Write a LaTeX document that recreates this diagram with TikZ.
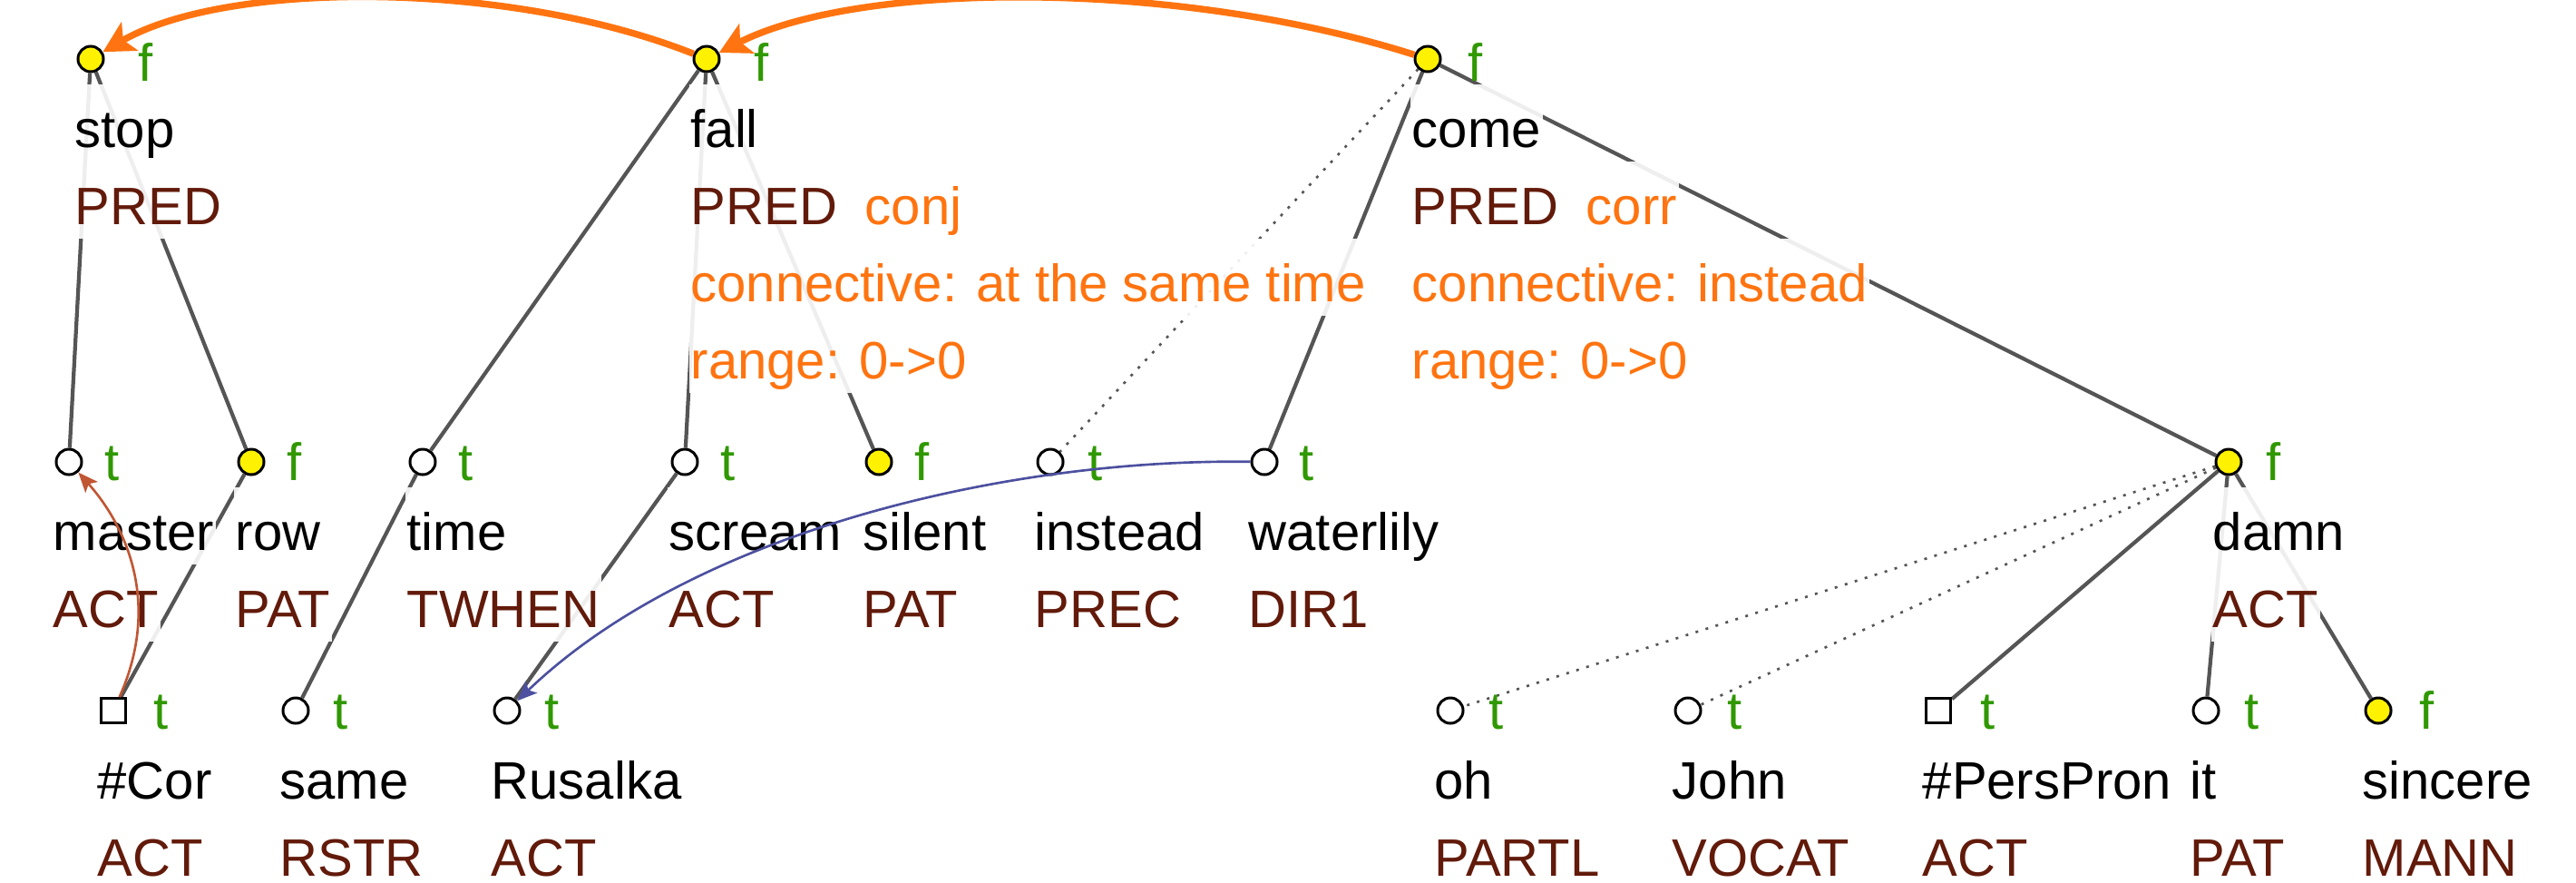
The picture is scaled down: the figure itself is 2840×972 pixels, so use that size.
\documentclass[tikz,border=0pt]{standalone}
\usepackage{fontspec}
\setmainfont{Liberation Sans}
\usetikzlibrary{arrows.meta}
\pgfdeclarelayer{edges}
\pgfdeclarelayer{labels}
\pgfdeclarelayer{top}
\pgfsetlayers{edges,labels,main,top}
\definecolor{edgegray}{HTML}{555555}
\definecolor{funcol}{RGB}{98,26,10}
\definecolor{orng}{RGB}{255,116,16}
\definecolor{tfgreen}{RGB}{48,152,0}
\definecolor{gramcoref}{HTML}{C05633}
\definecolor{textcoref}{HTML}{4C509F}
\tikzset{
  tnode/.style={circle, draw=black, line width=0.85pt, minimum size=0.28cm, inner sep=0pt, fill=white},
  yel/.style={fill=yellow},
  sq/.style={rectangle, minimum size=0.27cm},
  tflab/.style={anchor=base west, inner sep=0pt, text=tfgreen},
  lbl/.style={anchor=base west, inner xsep=0.02cm, inner ysep=0pt, text height=0.69cm, text depth=0.16cm, fill=white, fill opacity=0.9, text opacity=1},
  funlbl/.style={lbl, text=funcol},
  extlbl/.style={lbl, text=orng},
  tedge/.style={draw=edgegray, line width=1.2pt},
  dotedge/.style={draw=edgegray, line width=0.75pt, dash pattern=on 0.03cm off 0.085cm},
  orarc/.style={draw=orng, line width=2.1pt, -{Stealth[length=0.34cm,width=0.36cm,inset=0.08cm]}},
  gcoref/.style={draw=gramcoref, line width=0.75pt, -{Stealth[length=0.22cm,width=0.18cm,inset=0.05cm]}},
  tcoref/.style={draw=textcoref, line width=0.75pt, -{Stealth[length=0.22cm,width=0.18cm,inset=0.05cm]}},
}
% #1 name, #2 x, #3 y, #4 style, #5 t/f, #6 label dx, #7 label dy
\newcommand\TMk[7]{%
  \node[tnode,#4] (#1) at (#2,#3) {};
  \node[tflab] (#1-tf) at (#2+#6,#3+#7) {#5};}
% #1 name #2 x, #3 y, #4 text
\newcommand\TLem[4]{\node[lbl] (#1-lem) at (#2-20,#3+97) {#4};}
\newcommand\TFun[4]{\node[funlbl] (#1-fun) at (#2-20,#3+182) {#4\hspace{0.16cm}};}
% #1 name, #2 x, #3 y, #4 offset, #5 text
\newcommand\TExt[5]{\node[extlbl] (#1) at (#2-20,#3+#4) {#5};}
\begin{document}
\begin{tikzpicture}[x=0.01cm, y=-0.01cm, font=\fontsize{16.5}{20}\selectfont]
\useasboundingbox (0,0) rectangle (2840,972);
% ---- nodes
\TMk{stop}{100}{65}{yel}{f}{52}{24}
\TMk{fall}{779}{65}{yel}{f}{52}{24}
\TMk{come}{1574}{65}{yel}{f}{44}{24}
\TMk{master}{76}{509}{}{t}{39}{20}
\TMk{row}{277}{509}{yel}{f}{39}{20}
\TMk{time}{466}{509}{}{t}{39}{20}
\TMk{scream}{755}{509}{}{t}{39}{20}
\TMk{silent}{969}{509}{yel}{f}{39}{20}
\TMk{instead}{1158}{509}{}{t}{41}{20}
\TMk{waterlily}{1394}{509}{}{t}{38}{20}
\TMk{damn}{2457}{509}{yel}{f}{41}{20}
\TMk{Cor}{125}{783}{sq}{t}{44}{20}
\TMk{same}{326}{783}{}{t}{41}{20}
\TMk{Rusalka}{559}{783}{}{t}{41}{20}
\TMk{oh}{1599}{783}{}{t}{42}{20}
\TMk{John}{1861}{783}{}{t}{43}{20}
\TMk{PersPron}{2137}{783}{sq}{t}{46}{20}
\TMk{it}{2432}{783}{}{t}{42}{20}
\TMk{sincere}{2622}{783}{yel}{f}{45}{20}
% ---- labels
\begin{pgfonlayer}{labels}
\TLem{stop}{100}{65}{stop}
\TFun{stop}{100}{65}{PRED}
\TLem{fall}{779}{65}{fall}
\TFun{fall}{779}{65}{PRED\hspace{0.31cm}\textcolor{orng}{conj}}
\TExt{fall-con}{779}{65}{267}{connective: at the same time}
\TExt{fall-rng}{779}{65}{352}{range: 0->0}
\TLem{come}{1574}{65}{come}
\TFun{come}{1574}{65}{PRED\hspace{0.31cm}\textcolor{orng}{corr}}
\TExt{come-con}{1574}{65}{267}{connective: instead}
\TExt{come-rng}{1574}{65}{352}{range: 0->0}
\TLem{master}{76}{509}{master}
\TFun{master}{76}{509}{ACT}
\TLem{row}{277}{509}{row}
\TFun{row}{277}{509}{PAT}
\TLem{time}{466}{509}{time}
\TFun{time}{466}{509}{TWHEN}
\TLem{scream}{755}{509}{scream}
\TFun{scream}{755}{509}{ACT}
\TLem{silent}{969}{509}{silent}
\TFun{silent}{969}{509}{PAT}
\TLem{instead}{1158}{509}{instead}
\TFun{instead}{1158}{509}{PREC}
\TLem{waterlily}{1394}{509}{waterlily}
\TFun{waterlily}{1394}{509}{DIR1}
\TLem{damn}{2457}{509}{damn}
\TFun{damn}{2457}{509}{ACT}
\TLem{Cor}{125}{783}{\#Cor}
\TFun{Cor}{125}{783}{ACT}
\TLem{same}{326}{783}{same}
\TFun{same}{326}{783}{RSTR}
\TLem{Rusalka}{559}{783}{Rusalka}
\TFun{Rusalka}{559}{783}{ACT}
\TLem{oh}{1599}{783}{oh}
\TFun{oh}{1599}{783}{PARTL}
\TLem{John}{1861}{783}{John}
\TFun{John}{1861}{783}{VOCAT}
\TLem{PersPron}{2137}{783}{\#PersPron}
\TFun{PersPron}{2137}{783}{ACT}
\TLem{it}{2432}{783}{it}
\TFun{it}{2432}{783}{PAT}
\TLem{sincere}{2622}{783}{sincere}
\TFun{sincere}{2622}{783}{MANN}
\end{pgfonlayer}
% ---- tree edges
\begin{pgfonlayer}{edges}
\draw[tedge] (stop) -- (master);
\draw[tedge] (stop) -- (row);
\draw[tedge] (row) -- (Cor);
\draw[tedge] (fall) -- (time);
\draw[tedge] (time) -- (same);
\draw[tedge] (fall) -- (scream);
\draw[tedge] (scream) -- (Rusalka);
\draw[tedge] (fall) -- (silent);
\draw[dotedge] (come) -- (instead);
\draw[tedge] (come) -- (waterlily);
\draw[tedge] (come) -- (damn);
\draw[dotedge] (damn) -- (oh);
\draw[dotedge] (damn) -- (John);
\draw[tedge] (damn) -- (PersPron);
\draw[tedge] (damn) -- (it);
\draw[tedge] (damn) -- (sincere);
\end{pgfonlayer}
% ---- coreference / discourse arrows
\begin{pgfonlayer}{top}
\draw[orarc] (fall) .. controls (560,-22) and (250,-22) .. (stop);
\draw[orarc] (come) .. controls (1300,-22) and (950,-22) .. (fall);
\draw[gcoref] (Cor) .. controls (180,660) and (135,575) .. (master);
\draw[tcoref] (waterlily) .. controls (1100,505) and (760,590) .. (Rusalka);
\end{pgfonlayer}
\end{tikzpicture}
\end{document}
